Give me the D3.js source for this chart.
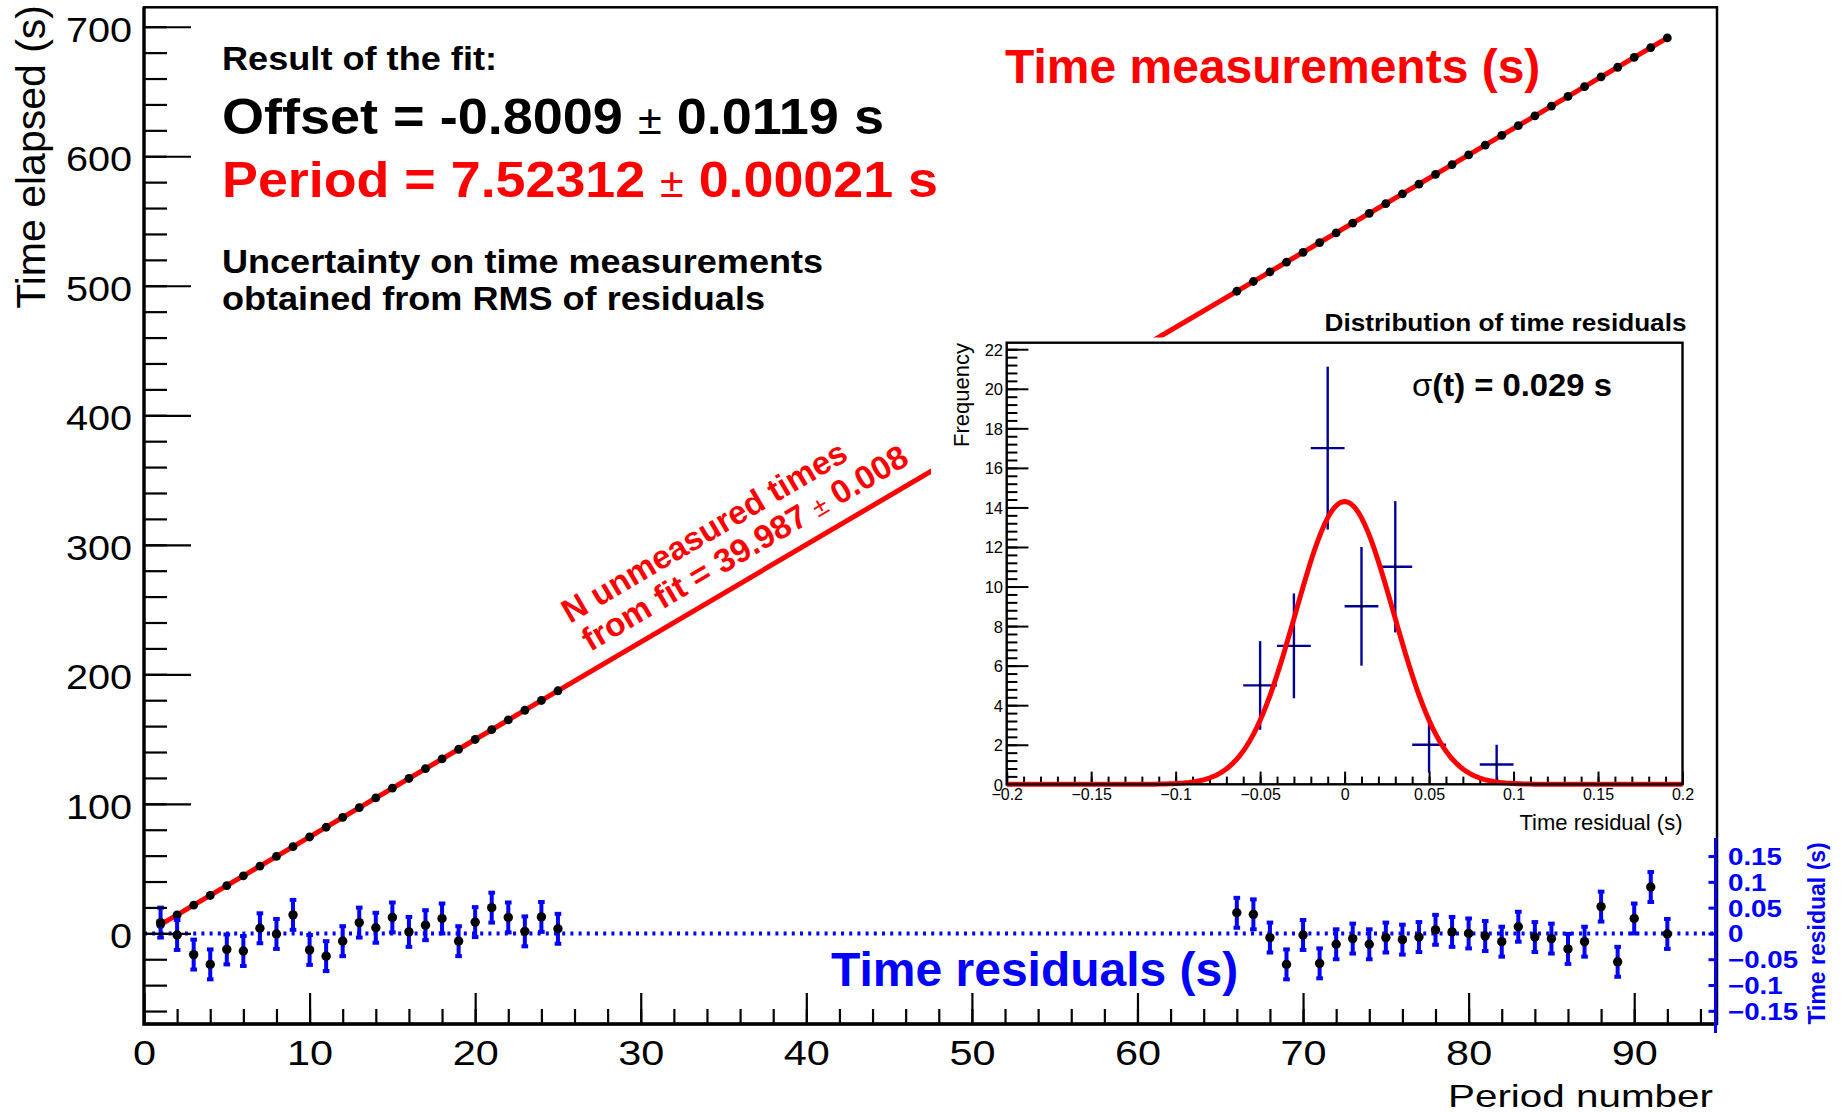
<html>
  <body style="margin:0; background:#fff">
    <style>
      text {
        font-family: "Liberation Sans", Arial, Helvetica, sans-serif;
      }
      .axis path {
        display: none;
      }
      .axis line {
        stroke: #000;
        stroke-width: 2.2;
      }
      .raxis line {
        stroke: #0000ff;
        stroke-width: 3;
      }
      .inset line {
        stroke-width: 2;
      }
    </style>
    <svg id="chart" width="1843" height="1113"></svg>
    <script src="https://d3js.org/d3.v7.min.js"></script>
    <script type="text/javascript">
      // measured periods, times (s) and residuals (s)
      var periods = [1,2,3,4,5,6,7,8,9,10,11,12,13,14,15,16,17,18,19,20,21,22,23,24,25,
        66,67,68,69,70,71,72,73,74,75,76,77,78,79,80,81,82,83,84,85,86,87,88,89,90,91,92];
      var times = [6.74,14.24,21.73,29.23,36.78,44.30,51.87,59.38,66.94,74.40,81.91,89.46,97.02,
        104.53,112.08,119.57,127.11,134.64,142.12,149.68,157.23,164.74,172.23,179.79,187.29,
        495.77,503.28,510.76,518.23,525.81,533.28,540.84,548.38,555.89,563.43,570.94,578.47,
        586.01,593.53,601.05,608.57,616.08,623.63,631.13,638.65,646.16,653.69,661.29,668.70,
        676.31,683.89,691.33];
      var residuals = [0.021,-0.003,-0.041,-0.060,-0.031,-0.034,0.010,-0.001,0.036,-0.032,-0.044,
        -0.015,0.021,0.011,0.031,0.003,0.016,0.029,-0.015,0.022,0.050,0.031,0.004,0.032,0.009,
        0.040,0.037,-0.008,-0.060,-0.003,-0.058,-0.021,-0.010,-0.021,-0.008,-0.012,-0.007,0.007,
        0.003,0.000,-0.005,-0.016,0.013,-0.007,-0.010,-0.030,-0.016,0.052,-0.055,0.029,0.090,-0.001];
      var timeUncertainty = 0.029;

      // linear fit result
      var fitOffset = -0.8009;
      var fitPeriod = 7.52312;

      // histogram of residuals
      var binCenters = [-0.05, -0.03, -0.01, 0.01, 0.03, 0.05, 0.09];
      var binCounts = [5, 7, 17, 9, 11, 2, 1];
      var binErrors = [2.24, 2.65, 4.12, 3.0, 3.32, 1.41, 1.0];
      var binWidth = 0.02;

      // gaussian fit of residuals
      var gausConst = 14.3;
      var gausMean = 0.0;
      var gausSigma = 0.029;

      // tick values
      var xTicks = [0, 10, 20, 30, 40, 50, 60, 70, 80, 90];
      var yTicks = [0, 100, 200, 300, 400, 500, 600, 700];
      var resTicks = [-0.15, -0.1, -0.05, 0, 0.05, 0.1, 0.15];
      var insetXTicks = [-0.2, -0.15, -0.1, -0.05, 0, 0.05, 0.1, 0.15, 0.2];
      var insetYTicks = [0, 2, 4, 6, 8, 10, 12, 14, 16, 18, 20, 22];

      function autorun() {
        var svg = d3.select("#chart");
        svg.append("rect").attr("width", 1843).attr("height", 1113).attr("fill", "#fff");

        var x = d3.scaleLinear().domain([0, 95]).range([144, 1717]);
        var y = d3.scaleLinear().domain([-70, 715]).range([1024, 7.3]);
        var yRes = d3.scaleLinear().domain([-0.193, 0.185]).range([1033, 838]);

        function fit(n) { return fitOffset + fitPeriod * n; }

        // zero line of residuals
        svg.append("line")
          .attr("x1", x.range()[0]).attr("x2", x.range()[1])
          .attr("y1", yRes(0)).attr("y2", yRes(0))
          .attr("stroke", "#0000ff")
          .attr("stroke-width", 4)
          .attr("stroke-dasharray", "3,5.2");

        // fit line
        var nExt = d3.extent(periods);
        svg.append("line")
          .attr("x1", x(nExt[0])).attr("y1", y(fit(nExt[0])))
          .attr("x2", x(nExt[1])).attr("y2", y(fit(nExt[1])))
          .attr("stroke", "#ff0000")
          .attr("stroke-width", 5);

        // time measurements
        svg.append("g").selectAll("circle")
          .data(periods)
          .enter().append("circle")
          .attr("cx", function(d) { return x(d); })
          .attr("cy", function(d, i) { return y(times[i]); })
          .attr("r", 4.4)
          .attr("fill", "#000");

        // residuals with error bars
        var res = svg.append("g");
        periods.forEach(function(n, i) {
          var r = residuals[i];
          res.append("line")
            .attr("x1", x(n)).attr("x2", x(n))
            .attr("y1", yRes(r - timeUncertainty)).attr("y2", yRes(r + timeUncertainty))
            .attr("stroke", "#0000ff").attr("stroke-width", 4);
          [r - timeUncertainty, r + timeUncertainty].forEach(function(e) {
            res.append("rect")
              .attr("x", x(n) - 3.3).attr("y", yRes(e) - 2)
              .attr("width", 6.6).attr("height", 4)
              .attr("fill", "#0000ff");
          });
          res.append("circle")
            .attr("cx", x(n)).attr("cy", yRes(r))
            .attr("r", 4.7).attr("fill", "#000");
        });

        // main axes
        svg.append("g").attr("class", "axis").attr("transform", "translate(144,0)")
          .call(d3.axisLeft(y).tickValues(d3.range(-60, 715, 20)).tickSize(-23).tickFormat(""));
        svg.append("g").attr("class", "axis").attr("transform", "translate(144,0)")
          .call(d3.axisLeft(y).tickValues(yTicks).tickSize(-47).tickFormat(d3.format("d")))
          .selectAll("text")
          .attr("x", null)
          .attr("dy", "0.40em")
          .attr("font-size", 36)
          .attr("fill", "#000")
          .attr("transform", "translate(-12,0) scale(1.1,1)");

        svg.append("g").attr("class", "axis").attr("transform", "translate(0,1024)")
          .call(d3.axisBottom(x).tickValues(d3.range(0, 95, 2)).tickSize(-15).tickFormat(""));
        svg.append("g").attr("class", "axis").attr("transform", "translate(0,1024)")
          .call(d3.axisBottom(x).tickValues(xTicks).tickSize(-31).tickFormat(d3.format("d")))
          .selectAll("text")
          .attr("y", null)
          .attr("dy", null)
          .attr("font-size", 36)
          .attr("fill", "#000")
          .attr("transform", "translate(0,41) scale(1.15,1)");

        // frame
        svg.append("rect")
          .attr("x", 144).attr("y", 7.3)
          .attr("width", 1717 - 144).attr("height", 1024 - 7.3)
          .attr("fill", "none").attr("stroke", "#000").attr("stroke-width", 2.5);
        svg.append("path")
          .attr("d", "M144,7.3V1024H1717")
          .attr("fill", "none").attr("stroke", "#000").attr("stroke-width", 3.3);

        svg.append("text")
          .attr("transform", "translate(45,5) rotate(-90)")
          .attr("text-anchor", "end")
          .attr("font-size", 41)
          .text("Time elapsed (s)");
        svg.append("text")
          .attr("x", 1713).attr("y", 1106.7)
          .attr("text-anchor", "end")
          .attr("font-size", 32)
          .attr("textLength", 265)
          .attr("lengthAdjust", "spacingAndGlyphs")
          .text("Period number");

        // inset pad
        svg.append("rect")
          .attr("x", 931).attr("y", 337.5)
          .attr("width", 1700 - 931).attr("height", 860 - 337.5)
          .attr("fill", "#fff");

        var xi = d3.scaleLinear().domain([-0.2, 0.2]).range([1006.7, 1682.5]);
        var yi = d3.scaleLinear().domain([0, 22.33]).range([784.3, 342.7]);
        var inset = svg.append("g");

        inset.append("g").attr("class", "axis inset").attr("transform", "translate(1006.7,0)")
          .call(d3.axisLeft(yi).tickValues(d3.range(0, 22.3, 0.4)).tickSize(-10.7).tickFormat(""));
        inset.append("g").attr("class", "axis inset").attr("transform", "translate(1006.7,0)")
          .call(d3.axisLeft(yi).tickValues(insetYTicks).tickSize(-21.7).tickPadding(3.7).tickFormat(d3.format("d")))
          .selectAll("text")
          .attr("dy", "0.36em")
          .attr("font-size", 16.5)
          .attr("fill", "#000");

        inset.append("g").attr("class", "axis inset").attr("transform", "translate(0,784.3)")
          .call(d3.axisBottom(xi).tickValues(d3.range(-0.2, 0.2001, 0.01)).tickSize(-7.7).tickFormat(""));
        inset.append("g").attr("class", "axis inset").attr("transform", "translate(0,784.3)")
          .call(d3.axisBottom(xi).tickValues(insetXTicks).tickSize(-12.7).tickFormat(d3.format("~g")))
          .selectAll("text")
          .attr("y", 16)
          .attr("dy", null)
          .attr("font-size", 16)
          .attr("fill", "#000");

        // histogram crosses
        binCenters.forEach(function(c, i) {
          var cnt = binCounts[i], err = binErrors[i];
          inset.append("line")
            .attr("x1", xi(c - binWidth / 2)).attr("x2", xi(c + binWidth / 2))
            .attr("y1", yi(cnt)).attr("y2", yi(cnt))
            .attr("stroke", "#000099").attr("stroke-width", 2.4);
          inset.append("line")
            .attr("x1", xi(c)).attr("x2", xi(c))
            .attr("y1", yi(Math.max(0, cnt - err))).attr("y2", yi(cnt + err))
            .attr("stroke", "#000099").attr("stroke-width", 2.4);
          inset.append("circle")
            .attr("cx", xi(c)).attr("cy", yi(cnt)).attr("r", 1.3).attr("fill", "#000");
        });

        // gaussian fit curve
        var gaus = d3.line()
          .x(function(d) { return xi(d); })
          .y(function(d) {
            return yi(gausConst * Math.exp(-0.5 * Math.pow((d - gausMean) / gausSigma, 2)));
          });
        inset.append("path")
          .datum(d3.range(-0.2, 0.2001, 0.002))
          .attr("d", gaus)
          .attr("fill", "none")
          .attr("stroke", "#ff0000")
          .attr("stroke-width", 5)
          .attr("stroke-linejoin", "round");

        inset.append("rect")
          .attr("x", 1006.7).attr("y", 342.7)
          .attr("width", 1682.5 - 1006.7).attr("height", 784.3 - 342.7)
          .attr("fill", "none").attr("stroke", "#000").attr("stroke-width", 2.4);

        inset.append("text")
          .attr("x", 1686.5).attr("y", 330.5)
          .attr("text-anchor", "end")
          .attr("font-size", 24).attr("font-weight", 700)
          .attr("textLength", 362).attr("lengthAdjust", "spacingAndGlyphs")
          .text("Distribution of time residuals");
        var sig = inset.append("text")
          .attr("x", 1412).attr("y", 396.4)
          .attr("font-size", 31).attr("font-weight", 700)
          .attr("textLength", 200).attr("lengthAdjust", "spacingAndGlyphs");
        sig.append("tspan").attr("font-weight", 400).text("σ");
        sig.append("tspan").text("(t) = 0.029 s");
        inset.append("text")
          .attr("x", 1682.5).attr("y", 830.3)
          .attr("text-anchor", "end")
          .attr("font-size", 22)
          .text("Time residual (s)");
        inset.append("text")
          .attr("transform", "translate(969,343) rotate(-90)")
          .attr("text-anchor", "end")
          .attr("font-size", 22)
          .text("Frequency");

        // fit result text
        function pmText(xp, yp, size, color, width, before, after) {
          var t = svg.append("text")
            .attr("x", xp).attr("y", yp)
            .attr("font-size", size).attr("font-weight", 700)
            .attr("fill", color);
          if (width) t.attr("textLength", width).attr("lengthAdjust", "spacingAndGlyphs");
          t.append("tspan").text(before);
          if (after !== undefined) {
            t.append("tspan").attr("font-size", size * 0.8).attr("font-weight", 400).text("±");
            t.append("tspan").text(after);
          }
          return t;
        }
        pmText(222, 70, 33, "#000", 275, "Result of the fit:");
        pmText(222, 134, 50, "#000", 662, "Offset = -0.8009  ", " 0.0119 s");
        pmText(222, 196.7, 50, "#ff0000", 716, "Period = 7.52312  ", " 0.00021 s");
        pmText(222, 273, 33, "#000", 601, "Uncertainty on time measurements");
        pmText(222, 310, 33, "#000", 543, "obtained from RMS of residuals");

        svg.append("text")
          .attr("x", 1005).attr("y", 83.3)
          .attr("font-size", 48).attr("font-weight", 700)
          .attr("fill", "#ff0000")
          .text("Time measurements (s)");
        svg.append("text")
          .attr("x", 831).attr("y", 986)
          .attr("font-size", 48).attr("font-weight", 700)
          .attr("fill", "#0000ff")
          .text("Time residuals (s)");

        // label along the fit line
        var n0 = 27;
        var angle = Math.atan2(y(fit(50)) - y(fit(10)), x(50) - x(10)) * 180 / Math.PI;
        var diag = svg.append("g")
          .attr("transform", "translate(" + x(n0) + "," + y(fit(n0)) + ") rotate(" + angle + ")");
        diag.append("text")
          .attr("x", 6).attr("y", -51.5)
          .attr("font-size", 33).attr("font-weight", 700).attr("fill", "#ff0000")
          .text("N unmeasured times");
        var d2 = diag.append("text")
          .attr("x", 9).attr("y", -17)
          .attr("font-size", 33).attr("font-weight", 700).attr("fill", "#ff0000")
          .attr("textLength", 372).attr("lengthAdjust", "spacingAndGlyphs");
        d2.append("tspan").text("from fit = 39.987  ");
        d2.append("tspan").attr("font-size", 26).attr("font-weight", 400).text("±");
        d2.append("tspan").text(" 0.008");

        // residual axis on the right
        var raxis = svg.append("g").attr("class", "raxis").attr("transform", "translate(1715.5,0)");
        raxis.call(d3.axisRight(yRes).tickValues(resTicks).tickSize(-7).tickFormat(d3.format("~g")))
          .selectAll("text")
          .attr("x", null)
          .attr("dy", "0.36em")
          .attr("font-size", 23.5).attr("font-weight", 700)
          .attr("fill", "#0000ff")
          .attr("transform", "translate(12.5,0) scale(1.18,1)");
        raxis.select("path").remove();
        raxis.append("line")
          .attr("y1", yRes.range()[1]).attr("y2", yRes.range()[0])
          .attr("stroke", "#0000ff").attr("stroke-width", 5.5);
        svg.append("text")
          .attr("transform", "translate(1825," + yRes(0) + ") rotate(-90)")
          .attr("text-anchor", "middle")
          .attr("font-size", 23).attr("font-weight", 700)
          .attr("fill", "#0000ff")
          .text("Time residual (s)");
      }
      if (window.addEventListener) window.addEventListener("load", autorun, false);
      else window.onload = autorun;
    </script>
  </body>
</html>
